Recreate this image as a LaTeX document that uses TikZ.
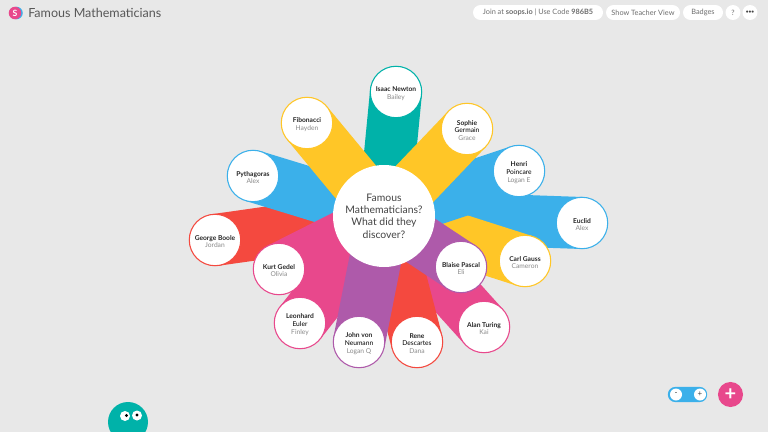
\documentclass[tikz,border=0pt]{standalone}
\usepackage{fontspec}
\setmainfont{Lato}
\usetikzlibrary{backgrounds}
\definecolor{pagegray}{HTML}{E8E8E8}
\definecolor{tealband}{HTML}{00B2A9}
\definecolor{yellowband}{HTML}{FFC627}
\definecolor{blueband}{HTML}{3BB0EA}
\definecolor{redband}{HTML}{F4493F}
\definecolor{pinkband}{HTML}{E8488C}
\definecolor{purpleband}{HTML}{AE5AAA}
\definecolor{inktext}{HTML}{444444}
\definecolor{softtext}{HTML}{8A8A8A}
\newcommand{\who}[2]{\bfseries\color{black!85}\rule{0pt}{6pt}#1\\\mdseries\color{softtext}#2}
\tikzset{
  person/.style={circle,draw=#1,fill=white,line width=.8pt,minimum size=38.6pt,inner sep=0pt,
    align=center,font=\fontsize{5}{5.8}\selectfont},
  pill/.style={rectangle,rounded corners=5.6pt,fill=white,inner sep=0pt,minimum height=11.2pt,
    text=softtext!80!black,font=\fontsize{5.5}{7}\selectfont},
  dot/.style={circle,fill=white,inner sep=0pt,minimum size=#1}
}
\begin{document}
\begin{tikzpicture}[x=.75pt,y=-.75pt]
  \clip (0,0) rectangle (768,432);
  \node[circle,fill=white,minimum size=76.5pt,inner sep=0pt,align=center,text=inktext,
    font=\fontsize{7.8}{9.2}\selectfont] (hub) at (384,216) {Famous\\Mathematicians?\\What did they\\discover?};
  \node[person=tealband] (n1) at (396,92) {\who{Isaac Newton}{Bailey}};
  \node[person=yellowband] (n2) at (467,129) {\who{Sophie\\Germain}{Grace}};
  \node[person=blueband] (n3) at (519,171) {\who{Henri\\Poincare}{Logan E}};
  \node[person=blueband] (n4) at (582,223) {\who{Euclid}{Alex}};
  \node[person=yellowband] (n5) at (525,261) {\who{Carl Gauss}{Cameron}};
  \node[person=purpleband] (n6) at (461,267) {\who{Blaise Pascal}{Eli}};
  \node[person=pinkband] (n7) at (484,327) {\who{Alan Turing}{Kai}};
  \node[person=redband] (n8) at (417,342) {\who{Rene\\Descartes}{Dana}};
  \node[person=purpleband] (n9) at (359,342) {\who{John von\\Neumann}{Logan Q}};
  \node[person=pinkband] (n10) at (300,323) {\who{Leonhard\\Euler}{Finley}};
  \node[person=pinkband] (n11) at (279,269) {\who{Kurt Gedel}{Olivia}};
  \node[person=redband] (n12) at (215,240) {\who{George Boole}{Jordan}};
  \node[person=blueband] (n13) at (253,176) {\who{Pythagoras}{Alex}};
  \node[person=yellowband] (n14) at (307,123) {\who{Fibonacci}{Hayden}};
  % header
  \node[circle,fill=blueband,minimum size=9.4pt,inner sep=0pt] (logob) at (16.5,13) {};
  \node[circle,fill=pinkband,minimum size=9.4pt,inner sep=0pt,text=white,
    font=\fontsize{6.5}{7}\bfseries\selectfont] (logo) at (15,13) {S};
  \node[anchor=west,inner sep=0pt,text=inktext!90,font=\fontsize{9.4}{11}\selectfont] (title) at (28,13) {Famous Mathematicians};
  \node[pill,minimum width=97.5pt] (join) at (538,12.5) {Join at \textbf{soops.io} | Use Code \textbf{986B5}};
  \node[pill,minimum width=55.5pt] (teacher) at (643,12.5) {Show Teacher View};
  \node[pill,minimum width=30pt] (badges) at (703,12.5) {Badges};
  \node[dot=11.2pt,text=softtext!80!black,font=\fontsize{5.5}{7}\selectfont] (help) at (733,12.5) {?};
  \node[dot=11.2pt,text=inktext,font=\fontsize{3.6}{5}\bfseries\selectfont] (more) at (750,12.5) {•••};
  % zoom control
  \node[rectangle,rounded corners=5.6pt,fill=blueband,minimum width=29.5pt,minimum height=11.4pt,inner sep=0pt] (slider) at (687.5,394.5) {};
  \node[dot=9pt,text=inktext,font=\fontsize{6}{7}\selectfont] (minus) at (676,394.5) {-};
  \node[dot=9pt,text=inktext,font=\fontsize{6}{7}\selectfont] (plus) at (700,394.5) {+};
  \node[circle,fill=pinkband,minimum size=18.8pt,inner sep=0pt,text=white,
    font=\fontsize{15}{15}\bfseries\selectfont] (add) at (730.5,394.5) {+};
  % mascot
  \node[circle,fill=tealband,minimum size=30pt,inner sep=0pt] (blob) at (128,422) {};
  \node[circle,fill=white,minimum size=7.5pt,inner sep=0pt] (eyel) at (125,416) {};
  \node[circle,fill=white,minimum size=7.5pt,inner sep=0pt] (eyer) at (137,415.5) {};
  \node[circle,fill=black,minimum size=2.4pt,inner sep=0pt] (pupl) at (126.5,415.5) {};
  \node[circle,fill=black,minimum size=2.4pt,inner sep=0pt] (pupr) at (137,415) {};
  \begin{pgfonlayer}{background}
    \fill[pagegray] (0,0) rectangle (768,432);
    \foreach \to/\col in {n1/tealband,n12/redband,n13/blueband,n4/blueband,n5/yellowband,
    n3/blueband,n2/yellowband,n14/yellowband,n7/pinkband,n10/pinkband,n11/pinkband,
    n8/redband,n9/purpleband,n6/purpleband}
      \draw[\col,line width=39pt] (hub.center) -- (\to.center);
  \end{pgfonlayer}
\end{tikzpicture}
\end{document}
